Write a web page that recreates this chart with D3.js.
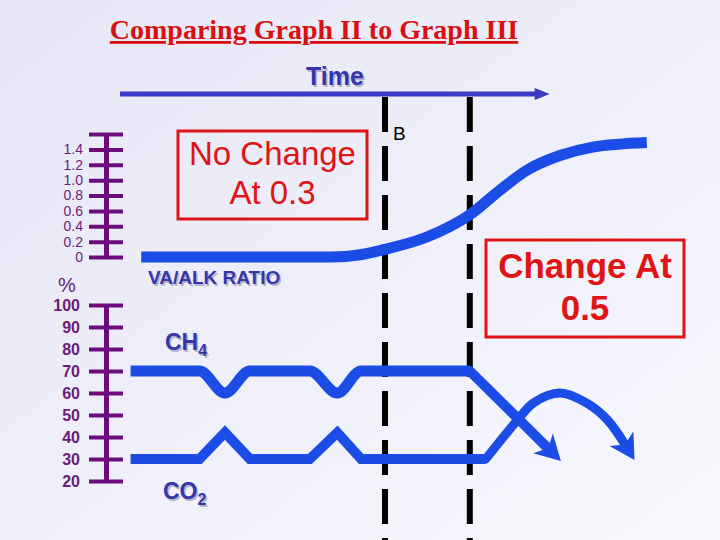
<!DOCTYPE html>
<html>
<head>
<meta charset="utf-8">
<script src="https://cdn.jsdelivr.net/npm/d3@7"></script>
<style>
  html, body { margin: 0; padding: 0; }
  body { width: 720px; height: 540px; overflow: hidden; }
  svg { display: block; font-family: "Liberation Sans", Arial, sans-serif; }
</style>
</head>
<body>
<div id="chart"></div>
<script>
// time runs 0..100 along the arrow; the two dashed lines mark the change points
const timeMarks = [50, 66];
const ratioTicks = [0, 0.2, 0.4, 0.6, 0.8, 1.0, 1.2, 1.4, 1.6];
const ratioTickLabels = ['0', '0.2', '0.4', '0.6', '0.8', '1.0', '1.2', '1.4', ''];
const pctTicks = [20, 30, 40, 50, 60, 70, 80, 90, 100];

// VA/ALK ratio curve
const vaTime = [4, 40, 45.3, 50, 57.9, 66, 71.7, 76.8, 83, 89.2, 99.4];
const vaRatio = [0, 0, 0.03, 0.10, 0.26, 0.55, 0.87, 1.13, 1.32, 1.43, 1.49];

// CH4 (%)
const ch4Time = [2, 15, 19.8, 24.5, 35.8, 41, 45.5, 66];
const ch4Pct = [70, 70, 60, 70, 70, 60, 70, 70];
const ch4ExitTime = [66, 81.3];
const ch4ExitPct = [70, 33.6];

// CO2 (%)
const co2Time = [2, 15, 19.8, 24.5, 35.8, 41, 45.5, 69];
const co2Pct = [30, 30, 42, 30, 30, 42, 30, 30];
const co2ArcTime = [69, 75, 78, 83, 88, 92, 95.7];
const co2ArcPct = [30, 47.7, 55.5, 60, 55.5, 47.7, 35];

const W = 720, H = 540;
const lineBlue = '#1c4ce6';
const axisPurple = '#6c0c7c';
const labelPurple = '#6a1c78';
const red = '#e01414';
const navy = '#3636ac';

const svg = d3.select('#chart').append('svg')
  .attr('width', W)
  .attr('height', H);

const defs = svg.append('defs');
const grad = defs.append('linearGradient').attr('id', 'bg')
  .attr('x1', 0).attr('y1', 0).attr('x2', 1).attr('y2', 1);
grad.append('stop').attr('offset', '0%').attr('stop-color', '#e6e6f6');
grad.append('stop').attr('offset', '100%').attr('stop-color', '#f8f8fe');

defs.append('marker').attr('id', 'head')
  .attr('markerUnits', 'userSpaceOnUse')
  .attr('viewBox', '-2 -16 30 32')
  .attr('markerWidth', 30).attr('markerHeight', 32)
  .attr('refX', 11).attr('refY', 0)
  .attr('orient', 'auto')
  .append('path')
  .attr('d', 'M0,-14L25,0L0,14L7,0Z')
  .attr('fill', lineBlue);

defs.append('marker').attr('id', 'timeHead')
  .attr('markerUnits', 'userSpaceOnUse')
  .attr('viewBox', '-1 -8 18 16')
  .attr('markerWidth', 18).attr('markerHeight', 16)
  .attr('refX', 4).attr('refY', 0)
  .attr('orient', 'auto')
  .append('path')
  .attr('d', 'M0,-6L15,0L0,6Z')
  .attr('fill', '#3a3ac4');

svg.append('rect').attr('width', W).attr('height', H).attr('fill', 'url(#bg)');

const x = d3.scaleLinear().domain([0, 100]).range([120, 650]);
const yRatio = d3.scaleLinear().domain([0, 1.6]).range([257, 134]);
const yPct = d3.scaleLinear().domain([20, 100]).range([481, 305]);

// title
svg.append('text')
  .attr('x', 314).attr('y', 39)
  .attr('text-anchor', 'middle')
  .style('font-family', '"Liberation Serif", "Times New Roman", serif')
  .style('font-weight', 'bold')
  .style('font-size', '28px')
  .style('text-decoration', 'underline')
  .attr('fill', '#d81010')
  .text('Comparing Graph II to Graph III');

// time arrow
svg.append('line')
  .attr('x1', x(0)).attr('x2', x(79))
  .attr('y1', 94).attr('y2', 94)
  .attr('stroke', '#3a3ac4').attr('stroke-width', 5)
  .attr('marker-end', 'url(#timeHead)');

function shadowText(tx, ty, str, size, anchor) {
  const g = svg.append('g');
  [['#b4b4c8', 1.5], [navy, 0]].forEach(([fill, off]) => {
    g.append('text')
      .attr('x', tx + off).attr('y', ty + off)
      .attr('text-anchor', anchor || 'start')
      .attr('fill', fill)
      .style('font-weight', 'bold')
      .style('font-size', size + 'px')
      .text(str);
  });
  return g;
}

shadowText((x(0) + x(79) + 11) / 2, 85, 'Time', 25, 'middle');

// dashed time marks
svg.selectAll('.mark')
  .data(timeMarks)
  .enter().append('line')
  .attr('class', 'mark')
  .attr('x1', d => x(d)).attr('x2', d => x(d))
  .attr('y1', 97).attr('y2', H)
  .attr('stroke', '#000').attr('stroke-width', 6)
  .attr('stroke-dasharray', '35,14');

svg.append('text')
  .attr('x', x(timeMarks[0]) + 8).attr('y', 140)
  .style('font-size', '19px')
  .attr('fill', '#000')
  .text('B');

// left axes
function drawAxis(scale, ticks, fmt, padding, size, weight) {
  const g = svg.append('g')
    .attr('transform', 'translate(123,0)')
    .call(d3.axisLeft(scale).tickValues(ticks).tickSize(34).tickPadding(padding).tickFormat(fmt));
  g.select('.domain').remove();
  g.selectAll('.tick line').attr('stroke', axisPurple).attr('stroke-width', 4);
  g.selectAll('.tick text')
    .attr('fill', labelPurple)
    .style('font-family', '"Liberation Sans", Arial, sans-serif')
    .style('font-size', size + 'px')
    .style('font-weight', weight);
  svg.append('line')
    .attr('x1', 106.5).attr('x2', 106.5)
    .attr('y1', scale(d3.max(ticks))).attr('y2', scale(d3.min(ticks)))
    .attr('stroke', axisPurple).attr('stroke-width', 5);
}

drawAxis(yRatio, ratioTicks, d => ratioTickLabels[ratioTicks.indexOf(d)], 6, 14, 'normal');
drawAxis(yPct, pctTicks, d => d, 9, 16, 'bold');

svg.append('text')
  .attr('x', 67).attr('y', 292)
  .attr('text-anchor', 'middle')
  .attr('fill', labelPurple)
  .style('font-size', '20px')
  .text('%');

// curves
const ratioLine = d3.line().x(d => x(d[0])).y(d => yRatio(d[1])).curve(d3.curveMonotoneX);
const pctSmooth = d3.line().x(d => x(d[0])).y(d => yPct(d[1])).curve(d3.curveMonotoneX);
const pctLinear = d3.line().x(d => x(d[0])).y(d => yPct(d[1]));
const pctArc = d3.line().x(d => x(d[0])).y(d => yPct(d[1])).curve(d3.curveCatmullRom);

svg.append('path')
  .attr('d', ratioLine(d3.zip(vaTime, vaRatio)))
  .attr('fill', 'none').attr('stroke', lineBlue).attr('stroke-width', 11);

svg.append('path')
  .attr('d', pctSmooth(d3.zip(ch4Time, ch4Pct)))
  .attr('fill', 'none').attr('stroke', lineBlue).attr('stroke-width', 11);

svg.append('path')
  .attr('d', pctLinear(d3.zip(ch4ExitTime, ch4ExitPct)))
  .attr('fill', 'none').attr('stroke', lineBlue).attr('stroke-width', 10)
  .attr('stroke-linecap', 'round')
  .attr('marker-end', 'url(#head)');

svg.append('path')
  .attr('d', pctLinear(d3.zip(co2Time, co2Pct)))
  .attr('fill', 'none').attr('stroke', lineBlue).attr('stroke-width', 10)
  .attr('stroke-linejoin', 'miter');

svg.append('path')
  .attr('d', pctArc(d3.zip(co2ArcTime, co2ArcPct)))
  .attr('fill', 'none').attr('stroke', lineBlue).attr('stroke-width', 9)
  .attr('stroke-linecap', 'round')
  .attr('marker-end', 'url(#head)');

// series labels
shadowText(148, 284, 'VA/ALK RATIO', 19);

function chemLabel(tx, ty, main, sub) {
  const t = shadowText(tx, ty, main, 23);
  t.selectAll('text').append('tspan')
    .attr('dy', 6)
    .style('font-size', '16px')
    .text(sub);
}
chemLabel(165, 350, 'CH', '4');
chemLabel(163, 499, 'CO', '2');

// callout boxes
function callout(x0, y0, w, h, lines, size, weight, baselines) {
  svg.append('rect')
    .attr('x', x0).attr('y', y0).attr('width', w).attr('height', h)
    .attr('fill', 'none').attr('stroke', red).attr('stroke-width', 3);
  lines.forEach((s, i) => {
    svg.append('text')
      .attr('x', x0 + w / 2).attr('y', baselines[i])
      .attr('text-anchor', 'middle')
      .attr('fill', red)
      .style('font-size', size + 'px')
      .style('font-weight', weight)
      .text(s);
  });
}
callout(178, 131, 189, 88, ['No Change', 'At 0.3'], 33, 'normal', [165, 204]);
callout(486, 240, 198, 97, ['Change At', '0.5'], 35, 'bold', [278, 320]);
</script>
</body>
</html>
